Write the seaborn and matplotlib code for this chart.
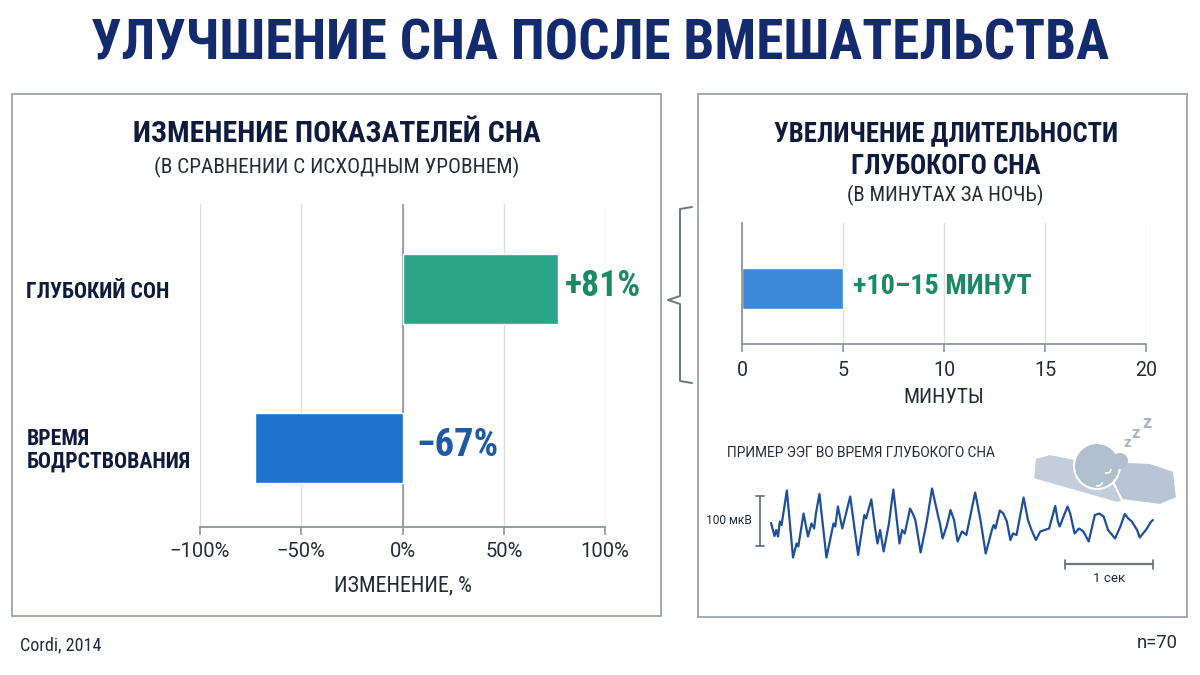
import matplotlib
matplotlib.use('Agg')
import matplotlib.pyplot as plt
from matplotlib import font_manager as fm
from matplotlib.patches import Rectangle, Polygon, Circle, Arc
import seaborn as sns

# ---- data ----
change_labels = ['ГЛУБОКИЙ СОН', 'ВРЕМЯ\nБОДРСТВОВАНИЯ']
change_values = [77, -73]
change_texts = ['+81%', '−67%']
change_ticks = [-100, -50, 0, 50, 100]

deep_label = ['ГЛУБОКИЙ СОН']
deep_minutes = [5]
deep_text = '+10–15 МИНУТ'
minute_ticks = [0, 5, 10, 15, 20]

# EEG example trace: seconds / microvolts
eeg_t = [0.00, 0.04, 0.06, 0.08, 0.10, 0.12, 0.18, 0.25, 0.29, 0.31,
         0.37, 0.42, 0.46, 0.49, 0.51, 0.55, 0.63, 0.71, 0.73, 0.76,
         0.81, 0.90, 0.99, 1.06, 1.08, 1.14, 1.18, 1.21, 1.24, 1.28,
         1.34, 1.39, 1.46, 1.49, 1.52, 1.58, 1.61, 1.64, 1.70, 1.77,
         1.83, 1.90, 1.92, 1.95, 2.00, 2.04, 2.08, 2.12, 2.17, 2.20,
         2.22, 2.32, 2.38, 2.44, 2.51, 2.53, 2.55, 2.60, 2.64, 2.68,
         2.72, 2.75, 2.79, 2.87, 2.92, 2.96, 3.01, 3.06, 3.11, 3.16,
         3.23, 3.26, 3.28, 3.37, 3.40, 3.45, 3.50, 3.55, 3.61, 3.68,
         3.73, 3.78, 3.83, 3.91, 3.97, 4.02, 4.06, 4.10, 4.16, 4.19,
         4.26, 4.32, 4.34]
eeg_uv = [0, -26, -14, -27, 3, -4, 65, -69, -41, -47,
          19, -27, -1, -11, 19, 58, -69, -1, -7, 33,
          -11, 53, -64, 16, 9, 47, -7, -41, -14, -57,
          -1, 67, -41, -14, -21, 29, 19, 6, -59, 3,
          69, 13, -1, -31, -4, 26, 6, -37, -17, -21,
          -24, 61, 6, -61, -14, -4, -11, 25, 19, 3,
          -34, -21, -24, 51, 6, -14, -34, -17, -14, -11,
          34, 3, -7, 33, 19, -21, -11, -17, -37, 16,
          19, 13, -14, -31, -7, 18, 9, 3, -14, -29,
          -14, 3, 6]
scale_sec = 1.0
scale_uv = 100

# ---- colours ----
NAVY = '#142a6e'
DARK = '#0f1b3d'
INK = '#222b38'
GREEN = '#2ba586'
GREEN_TXT = '#1b8a63'
BLUE = '#1f73cf'
BLUE_TXT = '#1c5aa8'
BLUE2 = '#3b8ad9'
GRAY = '#8f959c'
GRID = '#dedede'
EEG = '#1e4f9c'

sns.set_theme(style='white')
plt.rcParams['font.family'] = ['Roboto', 'DejaVu Sans']

# pick a narrow family for the headline-style texts
entries = fm.fontManager.ttflist
names = {f.name for f in entries}
if 'Roboto Condensed' in names:
    COND = dict(family='Roboto Condensed')
elif 'Liberation Sans Narrow' in names:
    COND = dict(family='Liberation Sans Narrow')
elif any(f.name == 'DejaVu Sans' and f.stretch == 'condensed' for f in entries):
    COND = dict(family='DejaVu Sans', fontstretch='condensed')
else:
    COND = dict(family='Roboto')
PLAIN = dict(family='Roboto')

W, H = 1200, 675
fig = plt.figure(figsize=(12, 6.75), dpi=100)


def px_rect(x0, y0, x1, y1):
    return [x0 / W, 1 - y1 / H, (x1 - x0) / W, (y1 - y0) / H]


# overlay in pixel coords for frames, titles and the little icon
ov = fig.add_axes([0, 0, 1, 1], zorder=1)
ov.set_xlim(0, W)
ov.set_ylim(H, 0)
ov.axis('off')

ov.add_patch(Rectangle((12, 94), 649, 522, fill=False, ec='#a3a9b1', lw=1.4))
ov.add_patch(Rectangle((698, 94), 489, 523, fill=False, ec='#a3a9b1', lw=1.4))
ov.plot([692, 680, 680, 668, 680, 680, 692], [207, 209, 296, 300, 304, 381, 383],
        color='#6b7785', lw=1.4, solid_joinstyle='round')

# sleeping person icon
ov.add_patch(Polygon([(1035, 458), (1050, 454), (1080, 460), (1110, 478), (1127, 500),
                      (1117, 503), (1033, 479)], closed=True, fc='#c4cedb', ec='white', lw=1.5))
ov.add_patch(Polygon([(1108, 472), (1128, 462), (1150, 463), (1174, 471), (1177, 498),
                      (1160, 505), (1122, 500)], closed=True, fc='#b9c5d4', ec='white', lw=1.5))
ov.add_patch(Circle((1097, 466), 23, fc='#b2bfcf', ec='white', lw=1.5))
ov.add_patch(Circle((1120, 461), 8, fc='#b2bfcf', ec='none'))
ov.add_patch(Arc((1107, 469), 8, 8, theta1=0, theta2=120, color='white', lw=1.2))
ov.add_patch(Arc((1098, 482), 8, 8, theta1=0, theta2=120, color='white', lw=1.2))
for zx, zy, zs in [(1127, 443, 11), (1136, 433, 12), (1147, 423, 13)]:
    ov.text(zx, zy, 'z', fontsize=zs, color='#a9b3c2', fontweight='bold',
            ha='center', va='center', **PLAIN)

texts = []  # (text, target width px)

t = ov.text(600, 45, 'УЛУЧШЕНИЕ СНА ПОСЛЕ ВМЕШАТЕЛЬСТВА', ha='center', va='center',
            fontsize=48, fontweight='bold', color=NAVY, **COND)
texts.append((t, 1018))
t = ov.text(337, 134, 'ИЗМЕНЕНИЕ ПОКАЗАТЕЛЕЙ СНА', ha='center', va='center',
            fontsize=22, fontweight='bold', color=DARK, **COND)
texts.append((t, 406))
t = ov.text(337, 167, '(В СРАВНЕНИИ С ИСХОДНЫМ УРОВНЕМ)', ha='center', va='center',
            fontsize=14, color=INK, **COND)
texts.append((t, 367))
t = ov.text(946, 134, 'УВЕЛИЧЕНИЕ ДЛИТЕЛЬНОСТИ', ha='center', va='center',
            fontsize=22, fontweight='bold', color=DARK, **COND)
texts.append((t, 344))
t2 = ov.text(946, 166, 'ГЛУБОКОГО СНА', ha='center', va='center',
             fontsize=22, fontweight='bold', color=DARK, **COND)
t = ov.text(945, 195, '(В МИНУТАХ ЗА НОЧЬ)', ha='center', va='center',
            fontsize=14, color=INK, **COND)
texts.append((t, 197))
t = ov.text(727, 453, 'ПРИМЕР ЭЭГ ВО ВРЕМЯ ГЛУБОКОГО СНА', ha='left', va='center',
            fontsize=11, color=INK, **PLAIN)
texts.append((t, 268))
t = ov.text(20, 645, 'Cordi, 2014', ha='left', va='center', fontsize=14, color=INK, **COND)
texts.append((t, 82))
t = ov.text(1178, 643, 'n=70', ha='right', va='center', fontsize=15, color=INK, **PLAIN)
texts.append((t, 41))

# ---- left chart: change vs baseline ----
ax1 = fig.add_axes(px_rect(200, 204, 605, 527), zorder=2)
ax1.set_facecolor('none')
sns.barplot(x=change_values, y=change_labels, hue=change_labels, palette=[GREEN, BLUE],
            width=0.44, saturation=1, legend=False, ax=ax1, zorder=2)
ax1.set_xlim(-100, 100)
ax1.set_ylim(1.497, -0.535)
ax1.set_xticks(change_ticks)
ax1.set_xticklabels([f'{v}%'.replace('-', '−') for v in change_ticks])
ax1.grid(axis='x', color=GRID, lw=1)
ax1.grid(axis='y', visible=False)
ax1.set_axisbelow(True)
ax1.axvline(0, color=GRAY, lw=1.2, zorder=1)
for s in ['top', 'right', 'left']:
    ax1.spines[s].set_visible(False)
ax1.spines['bottom'].set_color(GRAY)
ax1.spines['bottom'].set_linewidth(1.3)
ax1.tick_params(axis='x', bottom=True, length=6, width=1.2, color=GRAY, pad=5,
                labelsize=15, labelcolor=INK)
ax1.set_yticks(range(len(change_labels)))
ax1.set_yticklabels(change_labels, ha='left', fontsize=20, fontweight='bold',
                    color=DARK, linespacing=1.0, **COND)
ax1.tick_params(axis='y', left=False, length=0, pad=125)
ax1.set_xlabel('ИЗМЕНЕНИЕ, %', fontsize=15, color=INK, labelpad=10, **COND)
ax1.set_ylabel('')

value_texts = []
for i, (v, lab) in enumerate(zip(change_values, change_texts)):
    anchor = v if v > 0 else 0
    off = 5 if v > 0 else 10
    col = GREEN_TXT if v > 0 else BLUE_TXT
    a = ax1.annotate(lab, xy=(anchor, i), xytext=(off, 2), textcoords='offset points',
                     ha='left', va='center', fontsize=30, fontweight='bold', color=col, **COND)
    value_texts.append(a)
texts.append((value_texts[0], 76))
texts.append((value_texts[1], 82))

# ---- right chart: minutes of deep sleep ----
ax2 = fig.add_axes(px_rect(742, 223, 1146, 344), zorder=2)
ax2.set_facecolor('none')
sns.barplot(x=deep_minutes, y=deep_label, color=BLUE2, width=0.41, saturation=1, ax=ax2, zorder=2)
ax2.set_xlim(0, 20)
ax2.set_ylim(0.56, -0.65)
ax2.set_xticks(minute_ticks)
ax2.set_xticklabels([str(v) for v in minute_ticks])
ax2.grid(axis='x', color=GRID, lw=1)
ax2.grid(axis='y', visible=False)
ax2.set_axisbelow(True)
ax2.set_yticks([])
for s in ['top', 'right']:
    ax2.spines[s].set_visible(False)
for s in ['left', 'bottom']:
    ax2.spines[s].set_color(GRAY)
    ax2.spines[s].set_linewidth(1.3)
ax2.tick_params(axis='x', bottom=True, length=6, width=1.2, color=GRAY, pad=6,
                labelsize=15, labelcolor=INK)
ax2.set_xlabel('МИНУТЫ', fontsize=15, color=INK, labelpad=6, **COND)
ax2.set_ylabel('')
a = ax2.annotate(deep_text, xy=(deep_minutes[0], 0), xytext=(7, 1), textcoords='offset points',
                 ha='left', va='center', fontsize=23, fontweight='bold', color=GREEN_TXT, **COND)
texts.append((a, 179))

# ---- EEG example ----
ax3 = fig.add_axes(px_rect(700, 470, 1170, 600), zorder=3)
ax3.set_facecolor('none')
sns.lineplot(x=eeg_t, y=eeg_uv, sort=False, estimator=None, color=EEG, lw=1.6, ax=ax3)
ax3.set_xlim(-0.807, 4.534)
ax3.set_ylim(-154, 106)
ax3.axis('off')
vx = -0.125
ax3.plot([vx, vx], [54, 54 - scale_uv], color='#6e7781', lw=1.3)
ax3.plot([vx - 0.05, vx + 0.05], [54, 54], color='#6e7781', lw=1.3)
ax3.plot([vx - 0.05, vx + 0.05], [54 - scale_uv, 54 - scale_uv], color='#6e7781', lw=1.3)
hx1 = eeg_t[-1]
hx0 = hx1 - scale_sec
ax3.plot([hx0, hx1], [-82, -82], color='#6e7781', lw=1.6)
ax3.plot([hx0, hx0], [-74, -92], color='#6e7781', lw=1.3)
ax3.plot([hx1, hx1], [-74, -92], color='#6e7781', lw=1.3)
t = ax3.text(vx - 0.09, 4, '100 мкВ', ha='right', va='center', fontsize=11, color=INK, **PLAIN)
texts.append((t, 46))
t = ax3.text((hx0 + hx1) / 2, -110, '1 сек', ha='center', va='center', fontsize=11,
             color=INK, **PLAIN)
texts.append((t, 32))

# ---- scale texts so they match the reference widths ----
fig.canvas.draw()
rend = fig.canvas.get_renderer()


def fit(txt, width, grow=1.25):
    w = txt.get_window_extent(rend).width
    txt.set_fontsize(txt.get_fontsize() * min(width / w, grow))


for txt, width in texts:
    fit(txt, width)
t2.set_fontsize(texts[3][0].get_fontsize())


def fit_ticks(ax, axis, idx, width, grow=1.2):
    labs = ax.get_xticklabels() if axis == 'x' else ax.get_yticklabels()
    w = labs[idx].get_window_extent(rend).width
    ax.tick_params(axis=axis, labelsize=labs[idx].get_fontsize() * min(width / w, grow))


fit_ticks(ax1, 'x', 0, 60)
fit_ticks(ax1, 'y', 1, 164)
fit_ticks(ax2, 'x', 4, 22)
fit(ax1.xaxis.label, 139)
fit(ax2.xaxis.label, 81)

fig.savefig('out.png', dpi=100, facecolor='white')
